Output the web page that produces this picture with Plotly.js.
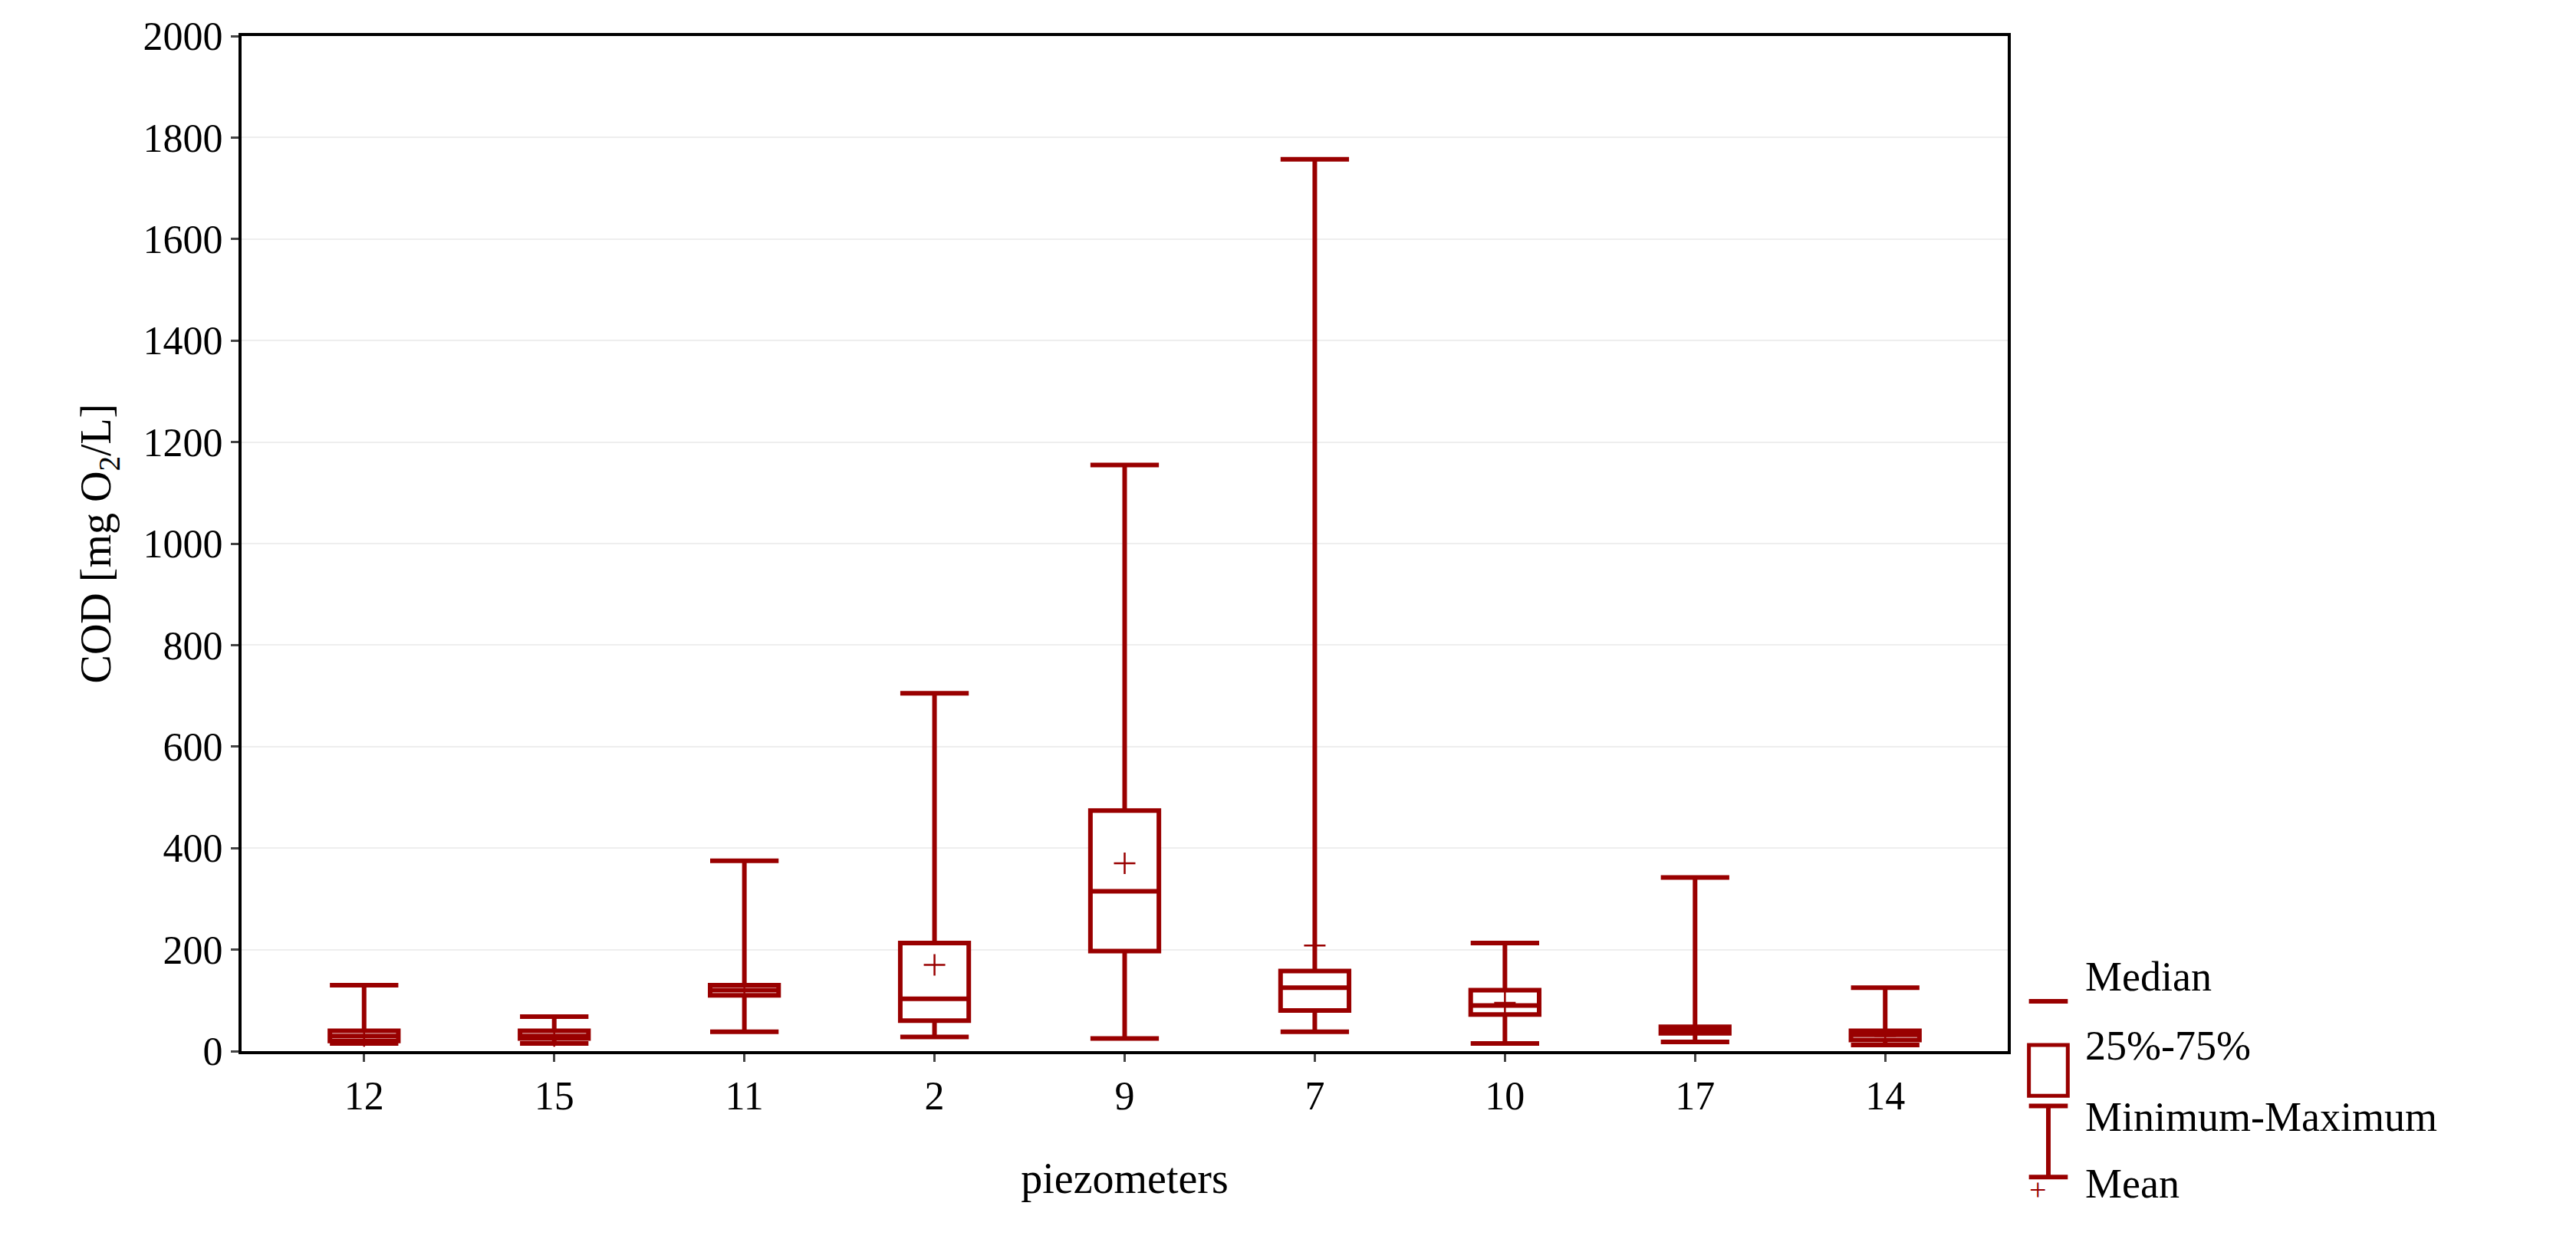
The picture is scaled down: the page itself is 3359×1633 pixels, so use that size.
<!DOCTYPE html>
<html><head><meta charset="utf-8">
<script src="https://cdn.plot.ly/plotly-3.0.1.min.js"></script>
<style>body{margin:0;background:#fff}#chart{width:3359px;height:1633px}</style>
</head><body><div id="chart"></div>
<script>
const piezometers = ['12', '15', '11', '2', '9', '7', '10', '17', '14'];
const minVals = [15, 15, 38, 28, 25, 38, 15, 18, 12];
const q1Vals = [20, 25, 110, 60, 197, 80, 72, 35, 22];
const medianVals = [30, 30, 120, 103, 315, 125, 90, 42, 32];
const q3Vals = [40, 40, 130, 213, 474, 158, 120, 48, 40];
const maxVals = [130, 68, 375, 705, 1155, 1757, 213, 342, 125];
const meanVals = [30, 30, 120, 170, 370, 208, 95, 45, 30];

const red = '#990000';
const font = 'Liberation Serif, DejaVu Serif, serif';

const traces = [{
  type: 'box', x: piezometers,
  q1: q1Vals, median: medianVals, q3: q3Vals,
  lowerfence: minVals, upperfence: maxVals,
  fillcolor: '#ffffff', line: { color: red, width: 6 },
  whiskerwidth: 1, width: 0.36, boxpoints: false,
  hoverinfo: 'skip', showlegend: false
}, {
  type: 'scatter', mode: 'markers', x: piezometers, y: meanVals,
  marker: { symbol: 'cross-thin', size: 20, line: { color: red, width: 2.5 } },
  showlegend: false
}];

// legend drawn by hand at the lower right
const shapes = [];
const annotations = [];
const lx = 1.023, lw = 0.022;
const items = ['Median', '25%-75%', 'Minimum-Maximum', 'Mean'];
const ys = [0.049, -0.019, -0.089, -0.155];
const yref = 'paper';
const seg = (x0, x1, y0, y1) => shapes.push({ type: 'line', xref: 'paper', yref, x0, x1, y0, y1, line: { color: red, width: 6 } });
seg(lx - lw / 2, lx + lw / 2, ys[0], ys[0]);
shapes.push({ type: 'rect', xref: 'paper', yref, x0: lx - lw / 2, x1: lx + lw / 2, y0: ys[1] - 0.025, y1: ys[1] + 0.025, line: { color: red, width: 5 } });
seg(lx, lx, ys[2] - 0.035, ys[2] + 0.035);
seg(lx - lw / 2, lx + lw / 2, ys[2] + 0.035, ys[2] + 0.035);
seg(lx - lw / 2, lx + lw / 2, ys[2] - 0.035, ys[2] - 0.035);
annotations.push({ xref: 'paper', yref, x: lx, y: ys[3], text: '+', showarrow: false, font: { family: font, size: 40, color: red } });
items.forEach((t, i) => annotations.push({
  xref: 'paper', yref, x: lx + 0.02, y: ys[i], xanchor: 'left', text: t,
  showarrow: false, font: { family: font, size: 54, color: '#000' }
}));

Plotly.newPlot('chart', traces, {
  width: 3359, height: 1633,
  margin: { l: 315, r: 741, t: 47, b: 262 },
  paper_bgcolor: '#fff', plot_bgcolor: '#fff',
  font: { family: font, size: 52, color: '#000' },
  shapes, annotations,
  xaxis: {
    type: 'category', showline: true, mirror: true, linecolor: '#000', linewidth: 4,
    ticks: 'outside', ticklen: 10, tickwidth: 3, showgrid: false,
    title: { text: 'piezometers', font: { size: 56 }, standoff: 60 }
  },
  yaxis: {
    range: [0, 2000], dtick: 200, showline: true, mirror: true, linecolor: '#000', linewidth: 4,
    ticks: 'outside', ticklen: 10, tickwidth: 3, gridcolor: '#eeeeee', gridwidth: 2, zeroline: false,
    title: { text: 'COD [mg O<sub>2</sub>/L]', font: { size: 56 }, standoff: 25 }
  }
}, { staticPlot: true });
</script></body></html>
